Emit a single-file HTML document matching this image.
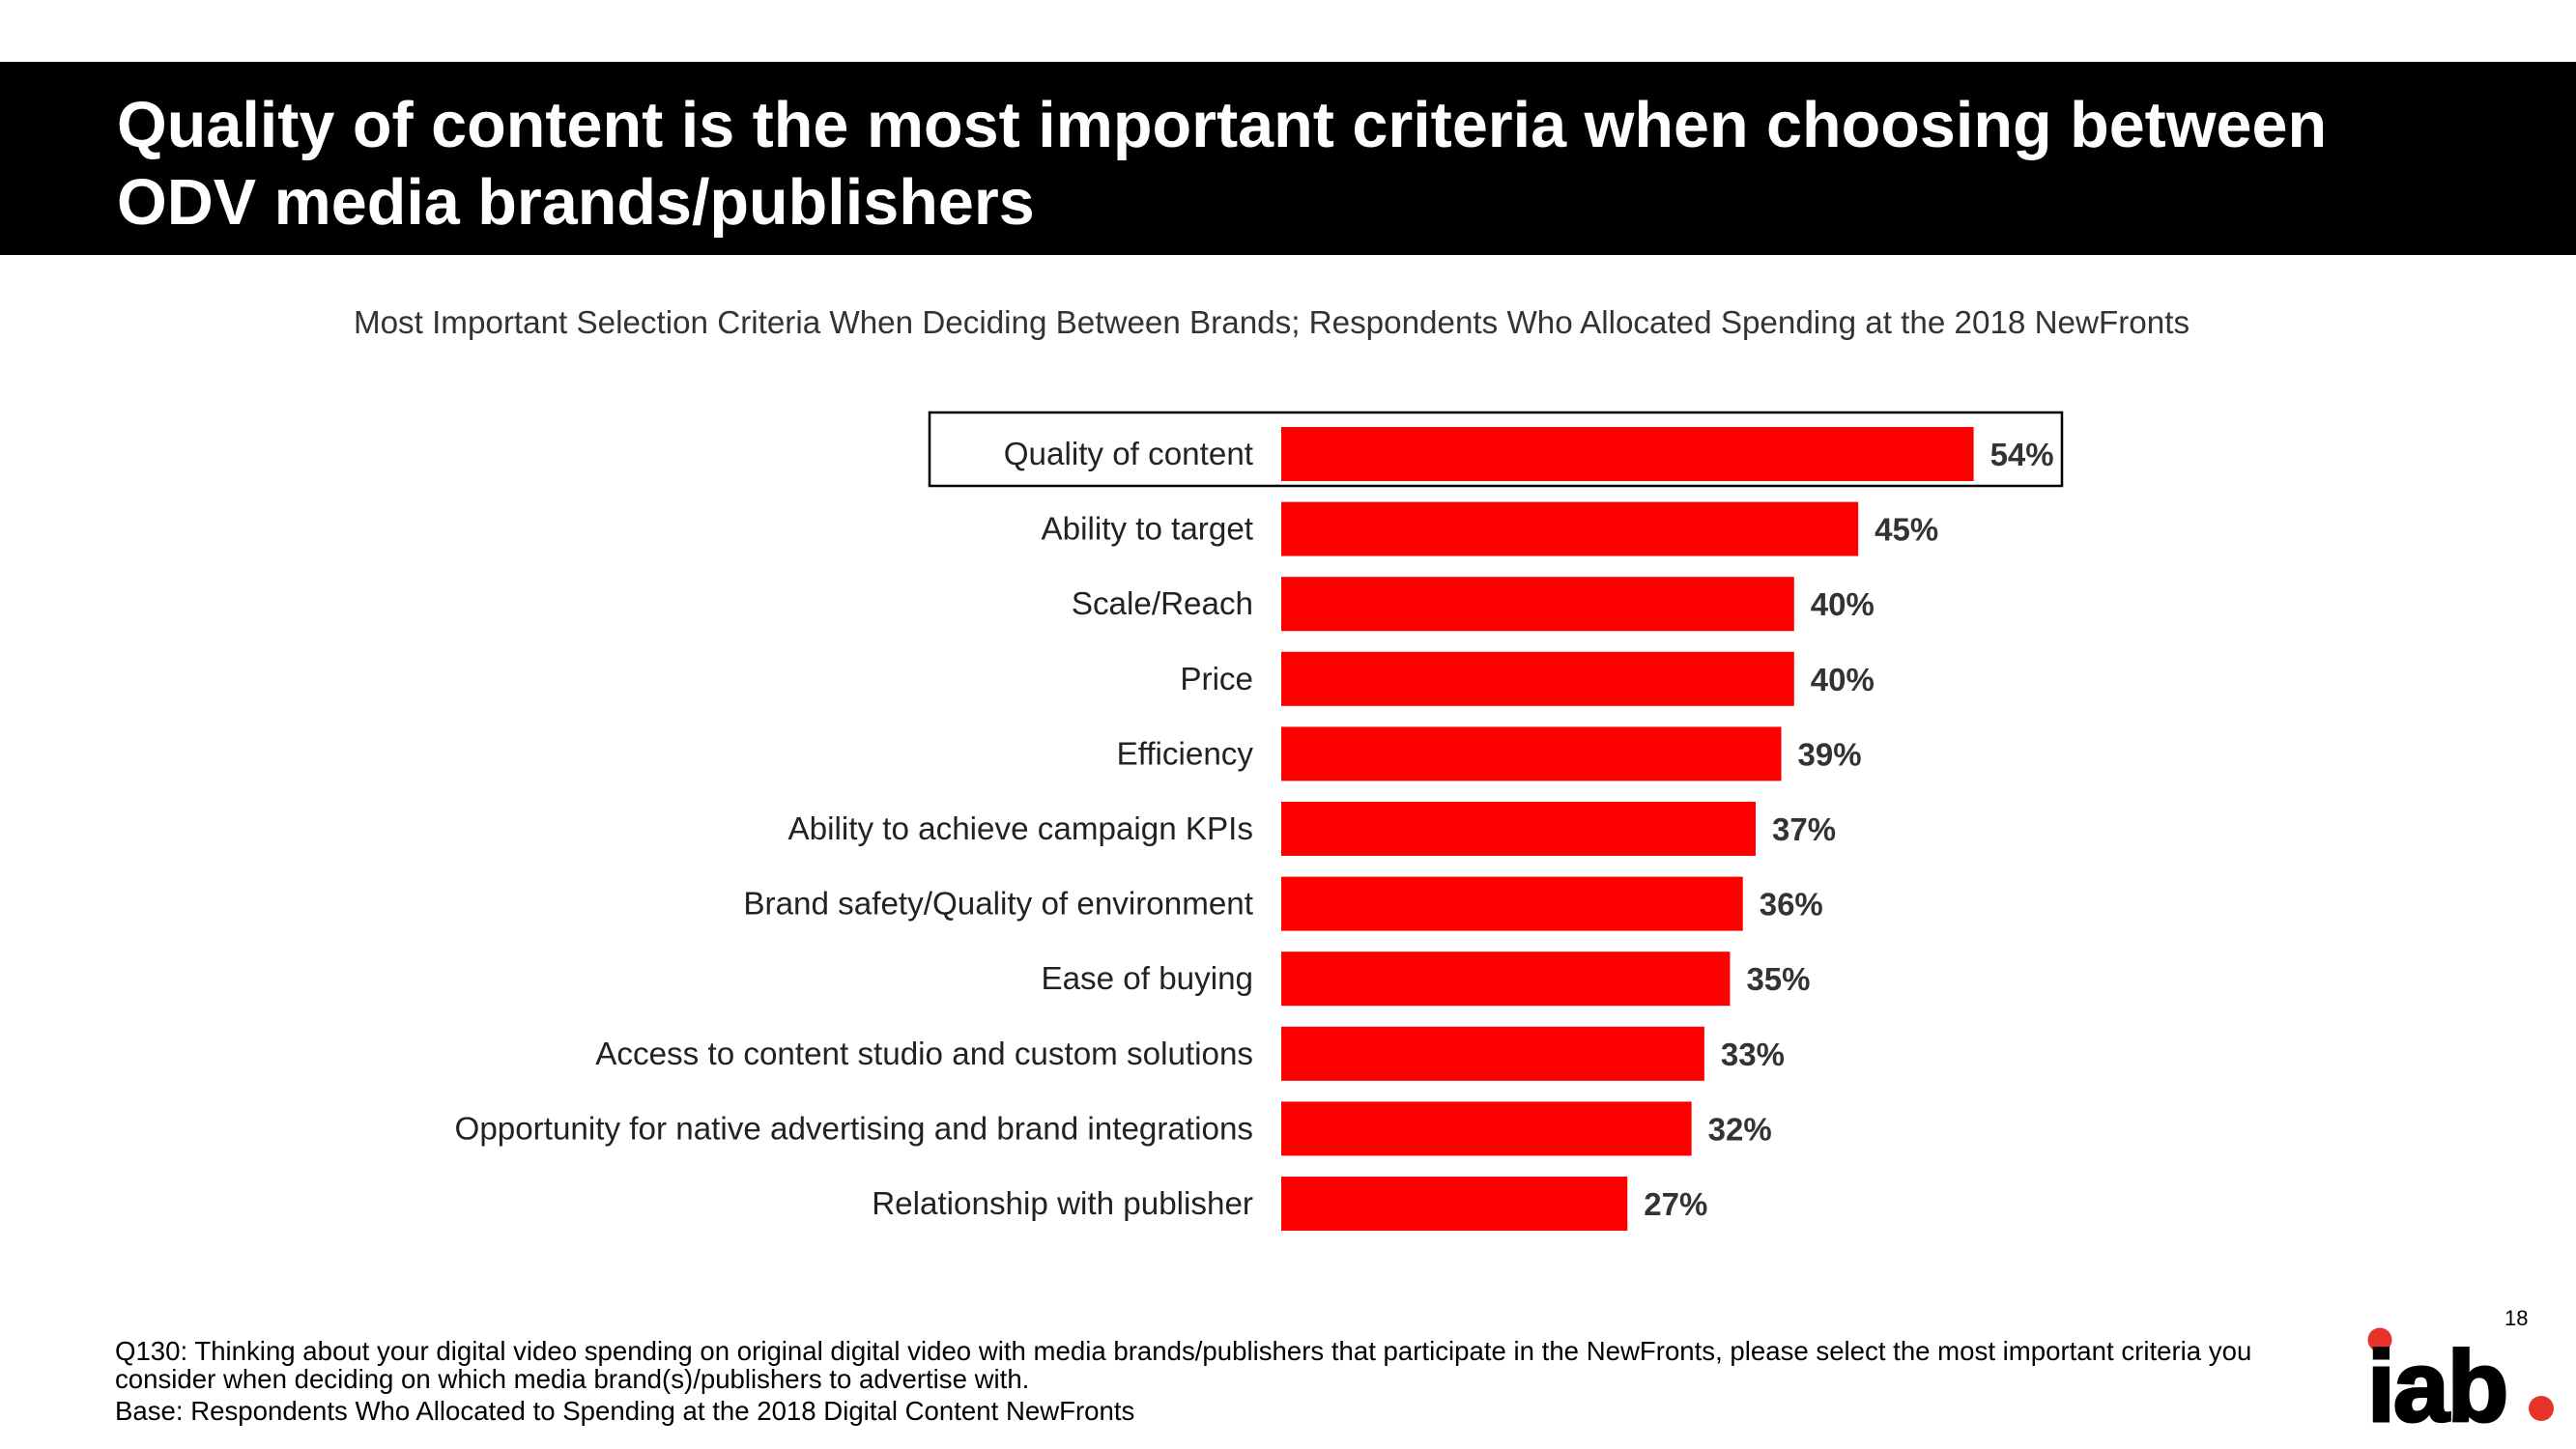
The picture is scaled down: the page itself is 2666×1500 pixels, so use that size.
<!DOCTYPE html>
<html><head><meta charset="utf-8"><style>
body{margin:0;width:2666px;height:1500px;background:#fff;position:relative;overflow:hidden;font-family:"Liberation Sans",Arial,sans-serif}
#band{position:absolute;left:0;top:64px;width:2666px;height:200px;background:#000}
#title{position:absolute;left:121px;top:90px;color:#fff;font-weight:bold;font-size:66.5px;line-height:80px;white-space:nowrap}
#sub{position:absolute;left:0;width:2632px;text-align:center;top:316px;font-size:33.2px;color:#333}
.foot{position:absolute;left:119px;font-size:27.6px;color:#000;white-space:nowrap}
</style></head><body>
<div id="band"></div>
<div id="title">Quality of content is the most important criteria when choosing between<br>ODV media brands/publishers</div>
<div id="sub">Most Important Selection Criteria When Deciding Between Brands; Respondents Who Allocated Spending at the 2018 NewFronts</div>
<svg id="chart" width="2666" height="1500" style="position:absolute;left:0;top:0">
<rect x="962" y="427" width="1172" height="76" fill="none" stroke="#000" stroke-width="2.5"/>
</svg>
<div class="foot" style="top:1383px">Q130: Thinking about your digital video spending on original digital video with media brands/publishers that participate in the NewFronts, please select the most important criteria you</div>
<div class="foot" style="top:1412px">consider when deciding on which media brand(s)/publishers to advertise with.</div>
<div class="foot" style="top:1445px">Base: Respondents Who Allocated to Spending at the 2018 Digital Content NewFronts</div>
<div style="position:absolute;left:2592px;top:1352px;font-size:22px">18</div>
<svg style="position:absolute;left:2430px;top:1360px" width="236" height="130">
<circle cx="33" cy="27" r="12.5" fill="#e8332a"/>
<text x="20" y="111" font-family="Liberation Sans, Arial, sans-serif" font-weight="bold" font-size="104" letter-spacing="-2" stroke="#000" stroke-width="3" fill="#000">iab</text>
<circle cx="200" cy="98" r="13" fill="#e8332a"/>
</svg>
<script>
const categories=["Quality of content","Ability to target","Scale/Reach","Price","Efficiency","Ability to achieve campaign KPIs","Brand safety/Quality of environment","Ease of buying","Access to content studio and custom solutions","Opportunity for native advertising and brand integrations","Relationship with publisher"];
const values=[54,45,40,40,39,37,36,35,33,32,27];
const valueLabels=["54%","45%","40%","40%","39%","37%","36%","35%","33%","32%","27%"];
const svg=document.getElementById('chart');
const NS='http://www.w3.org/2000/svg';
const x0=1326,pxPer=13.27,top0=442,pitch=77.6,bh=56;
function xs(v){return v*pxPer;}
function ys(i){return top0+i*pitch;}
categories.forEach((c,i)=>{
 const r=document.createElementNS(NS,'rect');
 r.setAttribute('x',x0);r.setAttribute('y',ys(i));r.setAttribute('width',xs(values[i]));r.setAttribute('height',bh);r.setAttribute('fill','#ff0000');
 
 
 svg.appendChild(r);
 const t=document.createElementNS(NS,'text');
 t.setAttribute('x',1297);t.setAttribute('y',ys(i)+bh/2+11);t.setAttribute('text-anchor','end');
 t.setAttribute('font-size','33.2');t.setAttribute('fill','#222');t.setAttribute('font-family','Liberation Sans, Arial, sans-serif');
 t.textContent=c;
 
 
 svg.appendChild(t);
 const v=document.createElementNS(NS,'text');
 v.setAttribute('x',x0+xs(values[i])+17);v.setAttribute('y',ys(i)+bh/2+12);
 v.setAttribute('font-size','33');v.setAttribute('font-weight','bold');v.setAttribute('fill','#333');v.setAttribute('font-family','Liberation Sans, Arial, sans-serif');
 v.textContent=valueLabels[i];
 
 
 svg.appendChild(v);
});
</script>
</body></html>
